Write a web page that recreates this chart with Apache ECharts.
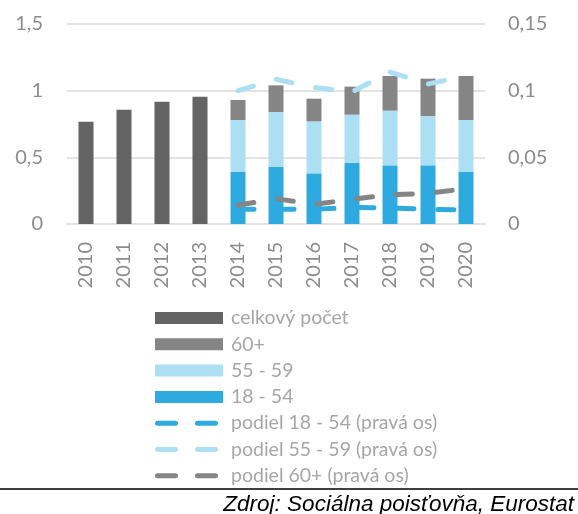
<!DOCTYPE html>
<html>
<head>
<meta charset="utf-8">
<script src="https://cdn.jsdelivr.net/npm/echarts@6/dist/echarts.min.js"></script>
<style>
html,body{margin:0;padding:0;background:#fff;}
#chart{width:578px;height:514px;}
</style>
</head>
<body>
<div id="chart"></div>
<script>
var years = ['2010','2011','2012','2013','2014','2015','2016','2017','2018','2019','2020'];
var celkovy = [0.767, 0.857, 0.917, 0.955, null, null, null, null, null, null, null];
var v60 = [null, null, null, null, 0.15, 0.20, 0.17, 0.21, 0.26, 0.28, 0.33];
var v5559 = [null, null, null, null, 0.39, 0.41, 0.39, 0.36, 0.41, 0.37, 0.39];
var v1854 = [null, null, null, null, 0.39, 0.43, 0.38, 0.46, 0.44, 0.44, 0.39];
var podiel1854 = [null, null, null, null, 0.011, 0.011, 0.011, 0.0125, 0.012, 0.011, 0.0105];
var podiel5559 = [null, null, null, null, 0.100, 0.1085, 0.1025, 0.099, 0.114, 0.105, 0.111];
var podiel60 = [null, null, null, null, 0.014, 0.019, 0.0147, 0.0185, 0.022, 0.023, 0.0265];
var leftTicks = ['0', '0,5', '1', '1,5'];
var rightTicks = ['0', '0,05', '0,1', '0,15'];
var sourceText = 'Zdroj: Sociálna poisťovňa, Eurostat';

var FONT = 'Lato, "Open Sans", sans-serif';
var cDark = '#646464', c60 = '#858585', cLight = '#acdff3', cBlue = '#2eaae0';
var dashIcon = 'path://M0 0 M68 12 M2.5 3.5 L20.5 3.5 A2.5 2.5 0 0 1 20.5 8.5 L2.5 8.5 A2.5 2.5 0 0 1 2.5 3.5 Z M42.5 3.5 L60.5 3.5 A2.5 2.5 0 0 1 60.5 8.5 L42.5 8.5 A2.5 2.5 0 0 1 42.5 3.5 Z';

function barSeries(name, data, color) {
  return {
    name: name, type: 'bar', stack: 'total', data: data, barWidth: 15,
    itemStyle: { color: color }, yAxisIndex: 0
  };
}
function lineSeries(name, data, color) {
  return {
    name: name, type: 'line', data: data, yAxisIndex: 1,
    symbol: 'none', showSymbol: false, z: 5,
    lineStyle: { color: color, width: 5, type: [16, 24], cap: 'round' },
    itemStyle: { color: color }
  };
}

var chart = echarts.init(document.getElementById('chart'), null, { renderer: 'canvas' });
chart.setOption({
  animation: false,
  backgroundColor: '#ffffff',
  grid: { left: 67, right: 93, top: 24, bottom: 290, containLabel: false },
  xAxis: {
    type: 'category', data: years,
    axisLine: { show: true, lineStyle: { color: '#e3e3e3', width: 2 } },
    axisTick: { show: false },
    axisLabel: { rotate: 90, color: '#8c8c8c', fontSize: 20, fontFamily: FONT, margin: 18 }
  },
  yAxis: [
    {
      type: 'value', min: 0, max: 1.5, interval: 0.5,
      axisLine: { show: false }, axisTick: { show: false },
      splitLine: { lineStyle: { color: '#e3e3e3', width: 2 } },
      axisLabel: {
        color: '#8c8c8c', fontSize: 20, fontFamily: FONT, margin: 24,
        formatter: function (v) { return leftTicks[Math.round(v / 0.5)]; }
      }
    },
    {
      type: 'value', min: 0, max: 0.15, interval: 0.05, position: 'right',
      axisLine: { show: false }, axisTick: { show: false },
      splitLine: { show: false },
      axisLabel: {
        color: '#8c8c8c', fontSize: 20, fontFamily: FONT, margin: 23,
        formatter: function (v) { return rightTicks[Math.round(v / 0.05)]; }
      }
    }
  ],
  legend: {
    orient: 'vertical', left: 150, top: 302,
    itemWidth: 68, itemHeight: 12, itemGap: 4.3,
    textStyle: { color: '#a6a6a6', fontSize: 19.5, fontFamily: FONT, lineHeight: 22, padding: [0, 0, 0, 3] },
    data: [
      { name: 'celkový počet', icon: 'rect' },
      { name: '60+', icon: 'rect' },
      { name: '55 - 59', icon: 'rect' },
      { name: '18 - 54', icon: 'rect' },
      { name: 'podiel 18 - 54 (pravá os)', icon: dashIcon, itemStyle: { color: cBlue } },
      { name: 'podiel 55 - 59 (pravá os)', icon: dashIcon, itemStyle: { color: cLight } },
      { name: 'podiel 60+ (pravá os)', icon: dashIcon, itemStyle: { color: c60 } }
    ]
  },
  series: [
    barSeries('18 - 54', v1854, cBlue),
    barSeries('55 - 59', v5559, cLight),
    barSeries('60+', v60, c60),
    barSeries('celkový počet', celkovy, cDark),
    lineSeries('podiel 18 - 54 (pravá os)', podiel1854, cBlue),
    lineSeries('podiel 55 - 59 (pravá os)', podiel5559, cLight),
    lineSeries('podiel 60+ (pravá os)', podiel60, c60)
  ],
  graphic: [
    { type: 'line', shape: { x1: 0, y1: 489, x2: 578, y2: 489 }, style: { stroke: '#000', lineWidth: 1.5 } },
    { type: 'text', right: 4, top: 493, style: { text: sourceText, font: 'italic 22.5px "Liberation Sans", Arial, sans-serif', fill: '#000' } }
  ]
});
</script>
</body>
</html>
